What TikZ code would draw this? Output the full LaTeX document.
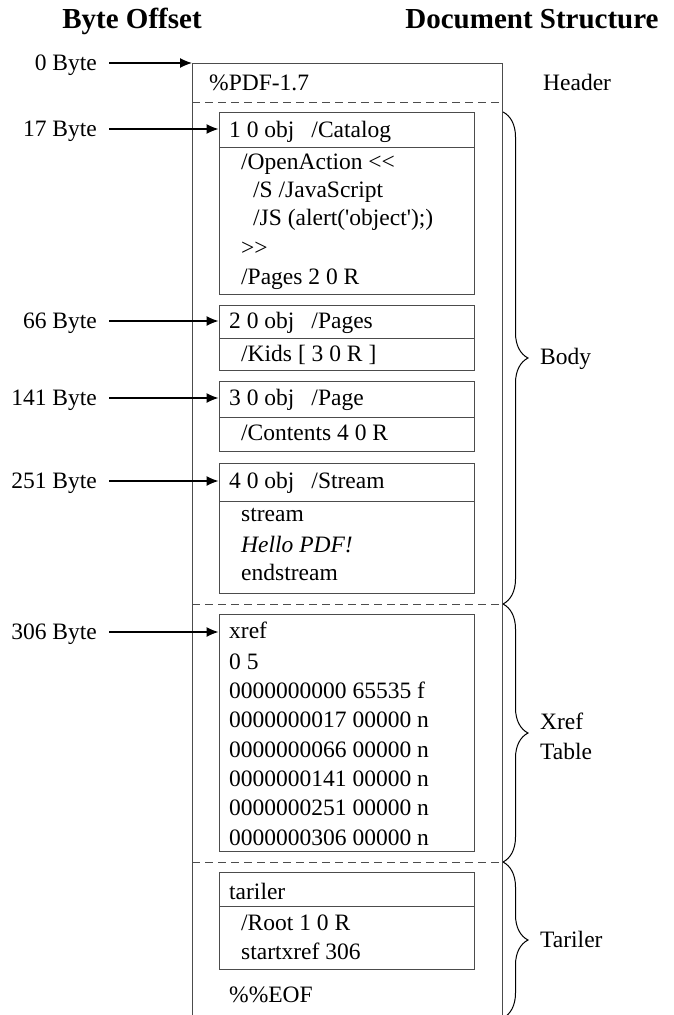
\documentclass[tikz,border=0pt]{standalone}
\usepackage{fontspec}
\newfontfamily\doc{Liberation Serif}
\usetikzlibrary{arrows.meta,decorations.pathreplacing}
\definecolor{boxgray}{gray}{0.3}
\begin{document}
\begin{tikzpicture}[x=1pt,y=-1pt,
  txt/.style={font=\doc\fontsize{23.5}{29}\selectfont, inner sep=0pt, anchor=base west},
  lbl/.style={font=\doc\fontsize{23.5}{29}\selectfont, inner sep=0pt, anchor=base east},
  ttl/.style={font=\doc\bfseries\fontsize{29}{34}\selectfont, inner sep=0pt, anchor=base},
  objbox/.style={draw=boxgray, line width=1pt, rectangle, inner sep=0pt, minimum width=255pt},
  boxline/.style={draw=boxgray, line width=1pt},
  sepline/.style={draw=boxgray, line width=1pt, dash pattern=on 8pt off 5pt},
  arr/.style={draw=black, line width=1.2pt, -{Latex[length=12pt,width=10pt]}},
  brc/.style={draw=black, line width=1pt, decorate, decoration={brace, amplitude=25pt}}]
\useasboundingbox (0,0) rectangle (673,1015);

% titles
\node[ttl] (t1) at (132,28) {Byte Offset};
\node[ttl] (t2) at (532,28) {Document Structure};

% outer document box
\coordinate (outTL) at (192,63);
\draw[boxline] (192,1015) -- (outTL) -- (502,63) -- (502,1015);
\draw[sepline] (192,102) -- (502,102);
\draw[sepline] (192,604) -- (502,604);
\draw[sepline] (192,862) -- (502,862);

% header
\node[txt] (hdr) at (209,90) {\%PDF-1.7};

% object boxes
\node[objbox, minimum height=182pt] (o1) at (346.5,203) {};
\draw[boxline] (219,147) -- (474,147);
\node[objbox, minimum height=65pt] (o2) at (346.5,337.5) {};
\draw[boxline] (219,338) -- (474,338);
\node[objbox, minimum height=70pt] (o3) at (346.5,416) {};
\draw[boxline] (219,417) -- (474,417);
\node[objbox, minimum height=130pt] (o4) at (346.5,528) {};
\draw[boxline] (219,501) -- (474,501);
\node[objbox, minimum height=237pt] (ox) at (346.5,732.5) {};
\node[objbox, minimum height=97pt] (ot) at (346.5,920.5) {};
\draw[boxline] (219,906) -- (474,906);

% object 1
\node[txt] (o1a) at (229,137) {1 0 obj\hspace{17pt}/Catalog};
\node[txt] (o1b) at (241,169) {/OpenAction \symbol{60}\symbol{60}};
\node[txt] (o1c) at (253,197) {/S /JavaScript};
\node[txt] (o1d) at (253,225) {/JS (alert('object');)};
\node[txt] (o1e) at (241,255) {\symbol{62}\symbol{62}};
\node[txt] (o1f) at (241,284) {/Pages 2 0 R};
% object 2
\node[txt] (o2a) at (229,328) {2 0 obj\hspace{17pt}/Pages};
\node[txt] (o2b) at (241,361) {/Kids [ 3 0 R ]};
% object 3
\node[txt] (o3a) at (229,405) {3 0 obj\hspace{17pt}/Page};
\node[txt] (o3b) at (241,440) {/Contents 4 0 R};
% object 4
\node[txt] (o4a) at (229,488) {4 0 obj\hspace{17pt}/Stream};
\node[txt] (o4b) at (241,521) {stream};
\node[txt] (o4c) at (241,552) {\itshape Hello PDF!};
\node[txt] (o4d) at (241,580) {endstream};
% xref
\node[txt] (x1) at (229,638) {xref};
\node[txt] (x2) at (229,669) {0 5};
\node[txt] (x3) at (229,698) {0000000000 65535 f};
\node[txt] (x4) at (229,727) {0000000017 00000 n};
\node[txt] (x5) at (229,757) {0000000066 00000 n};
\node[txt] (x6) at (229,786) {0000000141 00000 n};
\node[txt] (x7) at (229,815) {0000000251 00000 n};
\node[txt] (x8) at (229,845) {0000000306 00000 n};
% trailer
\node[txt] (tr1) at (229,899) {tariler};
\node[txt] (tr2) at (241,930) {/Root 1 0 R};
\node[txt] (tr3) at (241,959) {startxref 306};
\node[txt] (eof) at (229,1002) {\%\%EOF};

% byte offsets
\node[lbl] (l0) at (97,70) {0 Byte};
\node[lbl] (l1) at (97,136) {17 Byte};
\node[lbl] (l2) at (97,328) {66 Byte};
\node[lbl] (l3) at (97,405) {141 Byte};
\node[lbl] (l4) at (97,488) {251 Byte};
\node[lbl] (l5) at (97,639) {306 Byte};
\coordinate (s0) at (109,63);
\coordinate (s1) at (109,129);
\coordinate (s2) at (109,321);
\coordinate (s3) at (109,398);
\coordinate (s4) at (109,481);
\coordinate (s5) at (109,632);
\draw[arr] (s0) -- (outTL);
\draw[arr] (s1) -- (o1.west |- s1);
\draw[arr] (s2) -- (o2.west |- s2);
\draw[arr] (s3) -- (o3.west |- s3);
\draw[arr] (s4) -- (o4.west |- s4);
\draw[arr] (s5) -- (ox.west |- s5);

% braces and section labels
\node[txt] (hl) at (543,90) {Header};
\draw[brc] (503,112) -- (503,604);
\node[txt] (bl) at (540,364) {Body};
\draw[brc] (503,604) -- (503,862);
\node[font=\doc\fontsize{23.5}{30}\selectfont, inner sep=0pt, anchor=west, align=left] (xl) at (540,736) {Xref\\Table};
\draw[brc] (503,862) -- (503,1018);
\node[txt] (tl) at (540,947) {Tariler};
\end{tikzpicture}
\end{document}
